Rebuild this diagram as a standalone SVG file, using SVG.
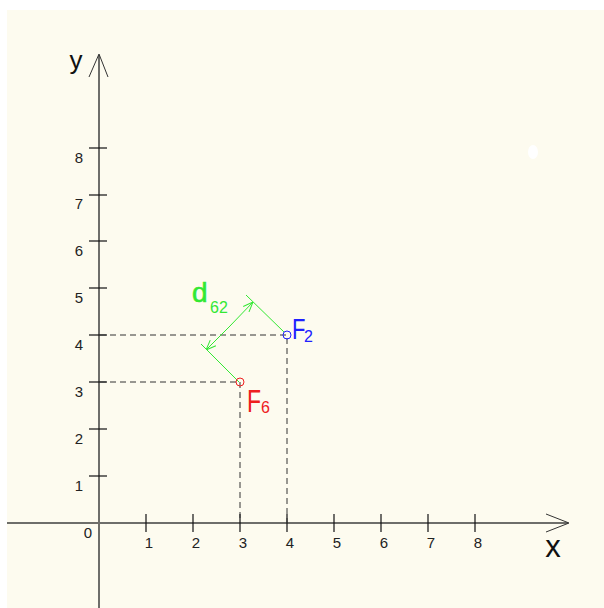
<svg xmlns="http://www.w3.org/2000/svg" width="604" height="608" viewBox="0 0 604 608">
<defs>
<style>
.axis{stroke:#6e6e6a;stroke-width:2;fill:none}
.tick{stroke:#111;stroke-width:1.2}
.lbl{font-family:"Liberation Sans",Arial,sans-serif;font-size:15px;fill:#222}
.dash{stroke:#333;stroke-width:1;stroke-dasharray:6,4;fill:none}
.grn{stroke:#33e833;stroke-width:1;fill:none}
.t{font-family:"Liberation Sans",Arial,sans-serif}
</style>
<marker id="ah" viewBox="0 0 10 10" refX="10" refY="5" markerWidth="10" markerHeight="10" markerUnits="userSpaceOnUse" orient="auto">
<path d="M0,1 L10,5 L0,9" fill="none" stroke="#33e833" stroke-width="1"/>
</marker>
</defs>
<rect x="0" y="0" width="604" height="608" fill="#ffffff"/>
<rect x="7" y="10" width="597" height="598" fill="#fdfbef"/>
<ellipse cx="533" cy="152" rx="5" ry="7" fill="#ffffff"/>
<g id="axes">
<line class="axis" x1="7" y1="523" x2="568" y2="523"/>
<line class="axis" x1="99" y1="608" x2="99" y2="55"/>
<path d="M546,514 L569,523 L546,532" stroke="#333" stroke-width="1" fill="none"/>
<path d="M89,77 L99,54 L108,77" stroke="#333" stroke-width="1" fill="none"/>
<g class="tick">
<line x1="146" y1="514" x2="146" y2="532"/><line x1="193" y1="514" x2="193" y2="532"/>
<line x1="240" y1="514" x2="240" y2="532"/><line x1="287" y1="514" x2="287" y2="532"/>
<line x1="334" y1="514" x2="334" y2="532"/><line x1="381" y1="514" x2="381" y2="532"/>
<line x1="428" y1="514" x2="428" y2="532"/><line x1="475" y1="514" x2="475" y2="532"/>
<line x1="89" y1="476" x2="107" y2="476"/><line x1="89" y1="429" x2="107" y2="429"/>
<line x1="89" y1="382" x2="107" y2="382"/><line x1="89" y1="335" x2="107" y2="335"/>
<line x1="89" y1="288" x2="107" y2="288"/><line x1="89" y1="241" x2="107" y2="241"/>
<line x1="89" y1="195" x2="107" y2="195"/><line x1="89" y1="148" x2="107" y2="148"/>
</g>
<g class="lbl" text-anchor="middle">
<text x="88" y="538">0</text>
<text x="149" y="548">1</text><text x="196" y="548">2</text><text x="243" y="548">3</text><text x="290" y="548">4</text>
<text x="337" y="548">5</text><text x="384" y="548">6</text><text x="431" y="548">7</text><text x="478" y="548">8</text>
<text x="79" y="491">1</text><text x="79" y="444">2</text><text x="79" y="397">3</text><text x="79" y="350">4</text>
<text x="79" y="303">5</text><text x="79" y="256">6</text><text x="79" y="209">7</text><text x="79" y="163">8</text>
</g>
<text class="t" x="553" y="557" font-size="31" fill="#111" text-anchor="middle">x</text>
<text class="t" x="76" y="69" font-size="26" fill="#111" text-anchor="middle">y</text>
</g>
<g id="connectors">
<path class="dash" d="M100,335 H287 V523"/>
<path class="dash" d="M100,382 H240 V523"/>
<line class="grn" x1="239" y1="382" x2="201" y2="344"/>
<line class="grn" x1="284" y1="332" x2="246" y2="295"/>
<line class="grn" x1="230" y1="326" x2="206" y2="350" marker-end="url(#ah)"/>
<line class="grn" x1="230" y1="326" x2="253" y2="302" marker-end="url(#ah)"/>
<text class="t" x="192" y="302" font-size="28" fill="#33e833" stroke="#33e833" stroke-width="0.6">d</text>
<text class="t" x="210" y="313" font-size="16" fill="#33e833">62</text>
</g>
<g id="F2">
<circle cx="287" cy="335" r="4" fill="none" stroke="#2020ff" stroke-width="1"/>
<text class="t" transform="translate(292,339) scale(1,1.35)" font-size="22" fill="#2020ff">F</text>
<text class="t" x="304" y="342" font-size="16" fill="#2020ff">2</text>
</g>
<g id="F6">
<circle cx="240" cy="382" r="4" fill="none" stroke="#ee2020" stroke-width="1"/>
<text class="t" transform="translate(247,412) scale(1,1.4)" font-size="23" fill="#ee2020">F</text>
<text class="t" x="261" y="413" font-size="16" fill="#ee2020">6</text>
</g>
</svg>
